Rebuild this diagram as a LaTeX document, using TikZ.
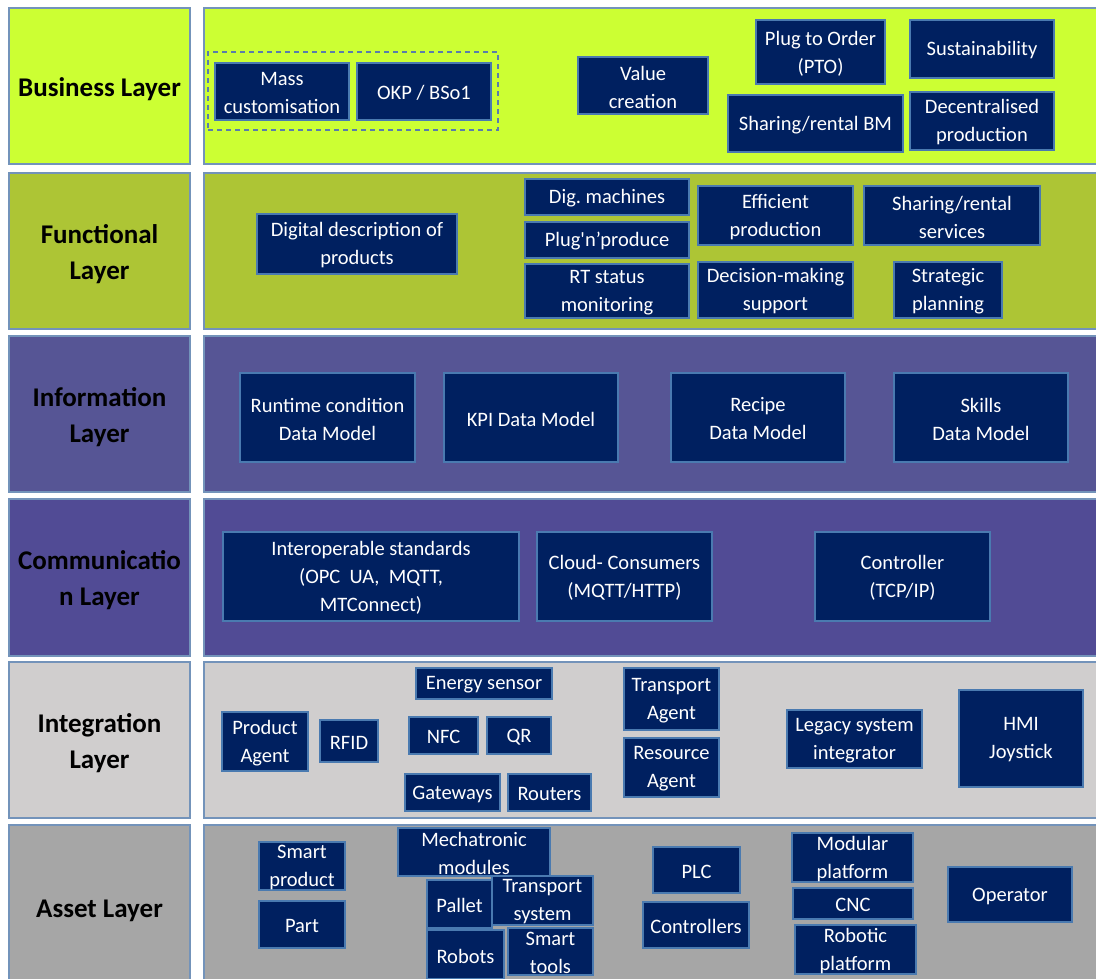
\documentclass[tikz,border=0pt]{standalone}
\usepackage{fontspec}
\setmainfont{Carlito}
\frenchspacing
\definecolor{navy}{HTML}{002060}
\definecolor{blkborder}{HTML}{4A7AB0}
\definecolor{panelborder}{HTML}{7393BA}
\definecolor{busfill}{HTML}{CCFF33}
\definecolor{funfill}{HTML}{ADC535}
\definecolor{inffill}{HTML}{565595}
\definecolor{comfill}{HTML}{514B95}
\definecolor{intfill}{HTML}{D0CECE}
\definecolor{assfill}{HTML}{A6A6A6}
\definecolor{dashcol}{HTML}{5A7DAA}

% one layer: left title panel and right content panel
% #1 name, #2 top, #3 bottom, #4 fill, #5 title
\newcommand\layerrow[5]{%
  \draw[panel, fill=#4] (9,#2) rectangle (190,#3);
  \draw[panel, fill=#4] (204,#2) rectangle (1104,#3);
  \node[lyr] (#1) at (99.5,{(#2+#3)/2}) {#5};}

% one element box: #1 name, #2 left, #3 top, #4 right, #5 bottom, #6 text
\newcommand\blk[6]{%
  \node[blk, minimum width={#4-#2}, minimum height={#5-#3},
        label={[blktext]center:{#6}}] (#1) at ({(#2+#4)/2},{(#3+#5)/2}) {};}

\begin{document}
\begin{tikzpicture}[x=1pt, y=-1pt,
  panel/.style={draw=panelborder, line width=1.8pt},
  lyr/.style={font=\fontsize{27}{36}\selectfont\bfseries, align=center, text=black, inner sep=0pt, yshift=-3pt},
  blk/.style={rectangle, draw=blkborder, fill=navy, line width=1.5pt, inner sep=0pt},
  blktext/.style={text=white, font=\fontsize{20.5}{28}\selectfont, align=center, inner sep=0pt, yshift=-1.5pt},
  grp/.style={rectangle, draw=dashcol, line width=1.8pt, dash pattern=on 5pt off 4pt, inner sep=0pt},
]
\useasboundingbox (0,0) rectangle (1096,979);
\fill[white] (0,0) rectangle (1096,979);

% ---- layers ----
\layerrow{business}{8}{164}{busfill}{Business Layer}
\layerrow{functional}{173}{329}{funfill}{Functional\\Layer}
\layerrow{information}{336}{492}{inffill}{Information\\Layer}
\layerrow{communication}{499}{656}{comfill}{Communicatio\\n Layer}
\layerrow{integration}{662}{818}{intfill}{Integration\\Layer}
\layerrow{asset}{825}{990}{assfill}{Asset Layer}

% ---- Business layer ----
\node[grp, minimum width=290, minimum height=78] (group) at (353,91) {};
\blk{masscust}{215}{63}{349}{120}{Mass\\customisation}
\blk{okp}{357}{63}{491}{120}{OKP / BSo1}
\blk{value}{578}{57}{708}{114}{Value\\creation}
\blk{pto}{756}{20}{885}{84}{Plug to Order\\(PTO)}
\blk{sustain}{910}{20}{1054}{78}{Sustainability}
\blk{sharebm}{728}{95}{903}{152}{Sharing/rental BM}
\blk{decentral}{910}{92}{1054}{150}{Decentralised\\production}

% ---- Functional layer ----
\blk{digdesc}{257}{214}{457}{274}{Digital description of\\products}
\blk{digmach}{525}{179}{689}{215}{Dig. machines}
\blk{plugprod}{525}{222}{689}{258}{Plug\textquotesingle n’produce}
\blk{rtstatus}{525}{264}{689}{318}{RT status\\monitoring}
\blk{efficient}{698}{186}{853}{245}{Efficient\\production}
\blk{decision}{698}{262}{853}{318}{Decision-making\\support}
\blk{sharesrv}{864}{186}{1040}{245}{Sharing/rental\\services}
\blk{strategic}{894}{262}{1002}{318}{Strategic\\planning}

% ---- Information layer ----
\blk{runtime}{240}{373}{415}{462}{Runtime condition\\Data Model}
\blk{kpi}{444}{373}{618}{462}{KPI Data Model}
\blk{recipe}{671}{373}{845}{462}{Recipe\\Data Model}
\blk{skills}{894}{373}{1068}{462}{Skills\\Data Model}

% ---- Communication layer ----
\blk{interop}{223}{532}{519}{621}{Interoperable standards\\(OPC~ UA,~ MQTT,\\MTConnect)}
\blk{cloud}{537}{532}{712}{621}{Cloud- Consumers\\(MQTT/HTTP)}
\blk{ctrltcp}{815}{532}{990}{621}{Controller\\(TCP/IP)}

% ---- Integration layer ----
\blk{energy}{416}{668}{552}{699}{Energy sensor}
\blk{transagent}{624}{668}{719}{730}{Transport\\Agent}
\blk{prodagent}{222}{712}{308}{771}{Product\\Agent}
\blk{rfid}{320}{720}{378}{762}{RFID}
\blk{nfc}{409}{717}{478}{754}{NFC}
\blk{qr}{487}{717}{551}{754}{QR}
\blk{legacy}{787}{710}{922}{768}{Legacy system\\integrator}
\blk{hmi}{959}{690}{1083}{787}{HMI\\Joystick}
\blk{resagent}{624}{738}{719}{797}{Resource\\Agent}
\blk{gateways}{405}{774}{500}{811}{Gateways}
\blk{routers}{508}{774}{591}{811}{Routers}

% ---- Asset layer ----
\blk{smartprod}{259}{842}{345}{890}{Smart\\product}
\blk{part}{259}{901}{345}{948}{Part}
\blk{mechatronic}{398}{828}{550}{876}{Mechatronic\\modules}
\blk{pallet}{427}{880}{492}{928}{Pallet}
\blk{transsys}{492}{876}{593}{925}{Transport\\system}
\blk{robots}{427}{930}{504}{979}{Robots}
\blk{smarttools}{508}{928}{593}{975}{Smart\\tools}
\blk{plc}{653}{847}{740}{893}{PLC}
\blk{controllers}{643}{902}{749}{948}{Controllers}
\blk{modular}{792}{833}{913}{882}{Modular\\platform}
\blk{cnc}{793}{888}{913}{919}{CNC}
\blk{robotic}{795}{925}{916}{974}{Robotic\\platform}
\blk{operator}{948}{867}{1072}{922}{Operator}
\end{tikzpicture}
\end{document}
